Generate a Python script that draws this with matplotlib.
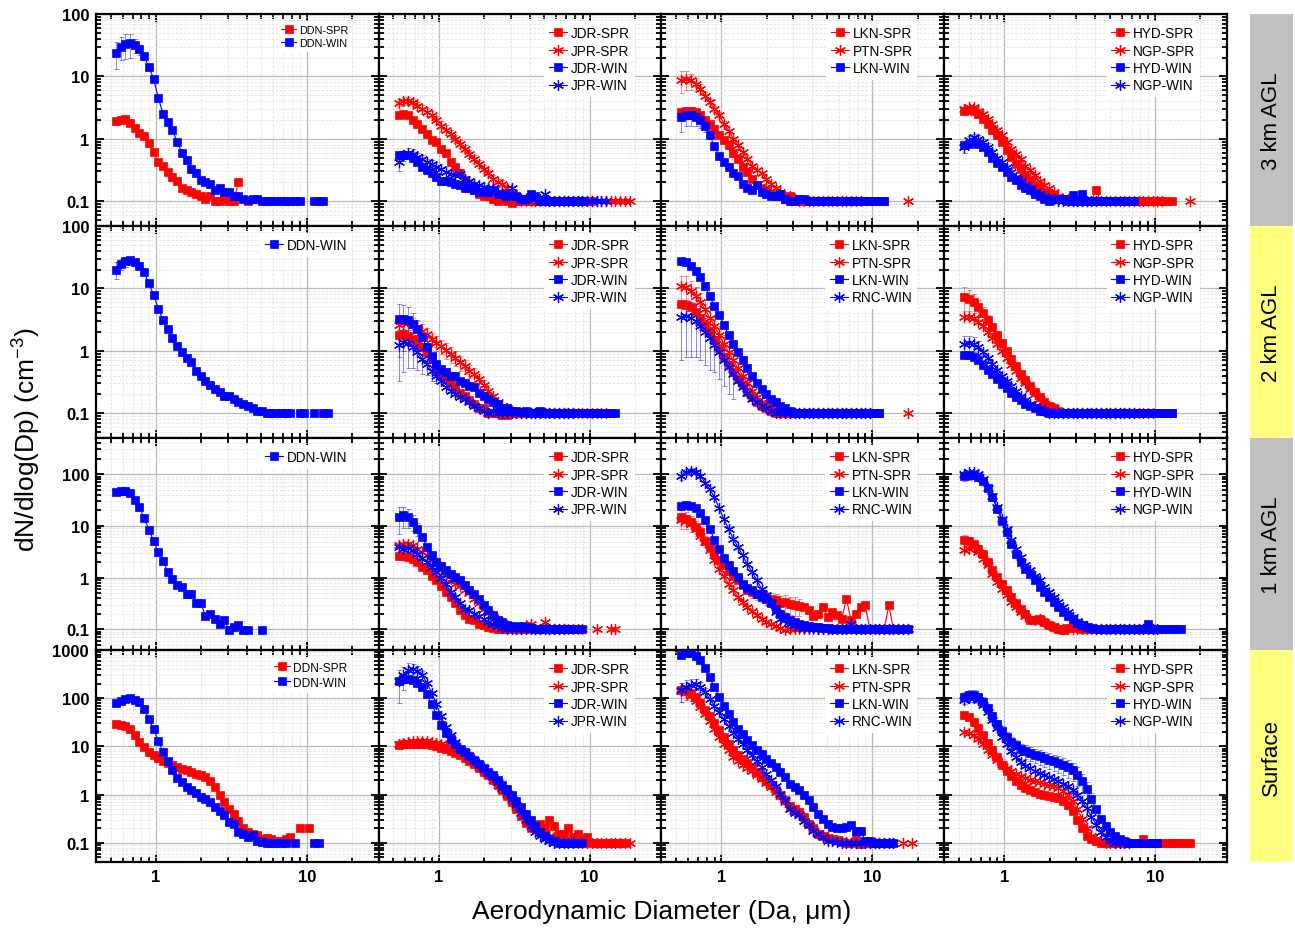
import numpy as np
import matplotlib
matplotlib.use('Agg')
import matplotlib.pyplot as plt
from matplotlib.patches import Rectangle
from matplotlib.ticker import FixedLocator, LogLocator, NullFormatter, FuncFormatter

plt.rcParams['font.family'] = ['Liberation Sans', 'DejaVu Sans']
plt.rcParams['mathtext.fontset'] = 'custom'
plt.rcParams['mathtext.rm'] = 'Liberation Sans'

na = np.nan

# APS bin midpoints (um)
D = [0.542, 0.583, 0.626, 0.673, 0.723, 0.777, 0.835, 0.898, 0.965, 1.037,
     1.114, 1.197, 1.286, 1.382, 1.486, 1.596, 1.715, 1.843, 1.981, 2.129,
     2.288, 2.458, 2.642, 2.839, 3.051, 3.278, 3.523, 3.786, 4.068, 4.371,
     4.698, 5.048, 5.425, 5.829, 6.264, 6.732, 7.234, 7.774, 8.354, 8.977,
     9.647, 10.37, 11.14, 11.97, 12.86, 13.82, 14.86, 15.96, 17.15, 18.43, 19.81]

# ---- 3 km AGL ----
r1_ddn_spr = [1.9, 2.0, 2.1, 1.8, 1.5, 1.25, 1.1, 0.86, 0.61, 0.42, 0.37, 0.29, 0.24, 0.21,
              0.16, 0.15, 0.14, 0.13, 0.12, 0.11, 0.12, 0.10, 0.10, 0.11, 0.10, 0.10, 0.20, na, 0.10]
r1_ddn_win = [24, 30, 33, 34, 32, 27, 21, 14, 9.1, 4.5, 2.5, 1.85, 1.4, 0.88, 0.6, 0.45,
              0.33, 0.28, 0.22, 0.2, 0.19, 0.15, 0.16, 0.14, 0.14, 0.12, 0.12, 0.11, 0.105, 0.11,
              0.11, 0.1, 0.1, 0.1, 0.1, 0.1, 0.1, 0.1, 0.1, 0.1, na, na, 0.1, 0.1, 0.1]
r1_jdr_spr = [2.4, 2.5, 2.4, 2.0, 1.7, 1.45, 1.2, 0.94, 0.88, 0.69, 0.6, 0.42, 0.35, 0.28,
              0.22, 0.18, 0.15, 0.13, 0.12, 0.12, 0.11, 0.10, 0.11, 0.10, 0.095, 0.1, 0.1, 0.1,
              0.1, 0.1, 0.1, 0.1, 0.1, 0.1, 0.1, 0.1, 0.1, 0.1, 0.1, 0.1, 0.1, 0.1]
r1_jpr_spr = [3.8, 4.1, 4.1, 3.9, 3.4, 3.0, 2.7, 2.4, 2.0, 1.6, 1.4, 1.2, 1.0, 0.83, 0.69,
              0.58, 0.48, 0.40, 0.33, 0.28, 0.23, 0.20, 0.19, 0.16, 0.14, 0.12, 0.1, 0.1, 0.1,
              0.1, 0.1, 0.1, 0.1, 0.1, 0.1, 0.1, 0.1, 0.1, 0.1, 0.1, 0.1, 0.1, 0.1, 0.1, 0.1,
              0.1, 0.1, 0.1, 0.1, 0.1]
r1_jdr_win = [0.54, 0.55, 0.54, 0.49, 0.42, 0.35, 0.31, 0.28, 0.24, 0.21, 0.21, 0.20, 0.19,
              0.18, 0.16, 0.16, 0.15, 0.14, 0.14, 0.14, 0.15, 0.13, 0.13, 0.12, 0.12, 0.12, 0.11,
              0.11, 0.13, 0.12, 0.1, 0.1, 0.1, 0.1, 0.1, 0.1, 0.1, 0.1, 0.1, 0.1]
r1_jpr_win = [0.42, 0.54, 0.60, 0.58, 0.51, 0.48, 0.42, 0.40, 0.35, 0.33, 0.29, 0.27, 0.26,
              0.27, 0.23, 0.21, 0.19, 0.18, 0.17, 0.16, 0.16, 0.14, 0.13, 0.12, 0.16, 0.12, 0.11,
              0.11, 0.12, 0.11, 0.11, 0.13, 0.1, 0.1, 0.1, 0.1, 0.1, 0.1, 0.1, 0.1, 0.1, 0.1, 0.1,
              0.1, 0.1]
r1_lkn_spr = [2.7, 2.8, 2.8, 2.7, 2.4, 2.0, 1.7, 1.45, 1.13, 0.94, 0.78, 0.60, 0.48, 0.35,
              0.29, 0.23, 0.18, 0.16, 0.15, 0.13, 0.12, 0.12, 0.11, 0.12, 0.11, 0.10, 0.1, 0.1,
              0.1, 0.1, 0.1, 0.1, 0.1, 0.1, 0.1, 0.1, 0.1, 0.1, 0.1, 0.1, 0.1, 0.1, 0.1, 0.1]
r1_ptn_spr = [8.9, 9.1, 8.6, 7.6, 6.3, 4.9, 3.9, 3.0, 2.4, 1.75, 1.35, 1.0, 0.78, 0.61, 0.48,
              0.37, 0.31, 0.28, 0.23, 0.19, 0.16, 0.14, 0.12, 0.12, 0.11, 0.10, 0.10, 0.1, 0.1,
              0.1, 0.1, 0.1, 0.1, 0.1, 0.1, 0.1, 0.1, 0.1, 0.1, na, na, na, na, na, na, na, na,
              na, 0.1]
r1_lkn_win = [2.2, 2.4, 2.4, 2.2, 2.0, 1.6, 1.13, 0.76, 0.53, 0.42, 0.35, 0.28, 0.25, 0.19,
              0.16, 0.15, 0.18, 0.14, 0.13, 0.12, 0.12, 0.13, 0.11, 0.10, 0.10, 0.11, 0.11, 0.1,
              0.1, 0.1, 0.1, 0.1, 0.1, 0.1, 0.1, 0.1, 0.1, 0.1, 0.1, 0.1, 0.1, 0.1, 0.1, 0.1]
r1_hyd_spr = [2.8, 2.9, 2.8, 2.5, 2.1, 1.75, 1.4, 1.13, 0.88, 0.65, 0.51, 0.40, 0.33, 0.26,
              0.22, 0.18, 0.16, 0.14, 0.13, 0.12, 0.11, 0.11, 0.11, 0.10, 0.10, 0.10, 0.10, 0.10,
              0.15, 0.1, 0.1, 0.1, 0.1, 0.1, 0.1, 0.1, 0.1, 0.1, 0.1, 0.1, 0.1, 0.1, 0.1, 0.1, 0.1]
r1_ngp_spr = [3.0, 3.2, 3.2, 2.8, 2.5, 2.1, 1.7, 1.36, 1.13, 0.88, 0.69, 0.58, 0.48, 0.37,
              0.31, 0.26, 0.21, 0.18, 0.16, 0.14, 0.12, 0.11, 0.11, 0.1, 0.1, 0.1, 0.1, 0.1, 0.1,
              0.1, 0.1, 0.1, 0.1, 0.1, 0.1, 0.1, 0.1, 0.1, 0.1, 0.1, 0.1, 0.1, 0.1, na, na, na,
              na, na, 0.1]
r1_hyd_win = [0.78, 0.83, 0.88, 0.83, 0.74, 0.61, 0.49, 0.41, 0.35, 0.29, 0.24, 0.22, 0.18,
              0.16, 0.15, 0.13, 0.12, 0.11, 0.10, 0.11, 0.11, 0.11, 0.10, 0.127, 0.10, 0.13, 0.1,
              0.1, 0.1, 0.1, 0.1, 0.1, 0.1, 0.1, 0.1, 0.1, 0.1]
r1_ngp_win = [0.74, 0.94, 1.06, 1.0, 0.88, 0.74, 0.61, 0.49, 0.42, 0.35, 0.29, 0.24, 0.21,
              0.18, 0.16, 0.14, 0.13, 0.12, 0.11, 0.11, 0.10, 0.10, 0.10, 0.10, 0.10, 0.10, 0.10,
              0.10, 0.10]

# ---- 2 km AGL ----
r2_ddn_win = [20, 25, 27, 28, 26, 23, 18, 12, 7.8, 4.7, 3.1, 2.2, 1.6, 1.2, 0.96, 0.78, 0.65,
              0.48, 0.40, 0.33, 0.28, 0.24, 0.22, 0.19, 0.19, 0.17, 0.15, 0.14, 0.13, 0.12, 0.11,
              0.11, 0.10, 0.1, 0.1, 0.1, 0.1, 0.1, na, 0.1, 0.1, na, 0.1, na, 0.1, 0.1]
r2_jdr_spr = [1.8, 1.85, 1.75, 1.55, 1.3, 1.13, 0.94, 0.73, 0.54, 0.44, 0.36, 0.31, 0.26, 0.21,
              0.19, 0.16, 0.14, 0.12, 0.12, 0.10, 0.10, 0.10, 0.095, 0.095, 0.1, 0.1, 0.1, 0.1,
              0.1, 0.1, 0.1, 0.1, 0.1, 0.1, 0.1, 0.1, 0.1, 0.1, 0.1, 0.1, 0.1, 0.1]
r2_jpr_spr = [2.6, 2.8, 2.8, 2.6, 2.4, 2.1, 1.85, 1.55, 1.35, 1.2, 1.04, 0.88, 0.78, 0.65, 0.57,
              0.48, 0.42, 0.35, 0.28, 0.23, 0.19, 0.15, 0.13, 0.12, 0.11, 0.10, 0.1, 0.1, 0.1,
              0.1, 0.1, 0.1, 0.1, 0.1, 0.1, 0.1, 0.1, 0.1, 0.1, 0.1, 0.1, 0.1, 0.1, 0.1, 0.1]
r2_jdr_win = [3.2, 3.2, 3.1, 2.7, 2.2, 1.65, 1.13, 0.83, 0.61, 0.51, 0.45, 0.40, 0.40, 0.33,
              0.31, 0.27, 0.26, 0.21, 0.19, 0.17, 0.15, 0.14, 0.12, 0.12, 0.11, 0.11, 0.105, 0.11,
              0.10, 0.10, 0.11, 0.1, 0.1, 0.1, 0.1, 0.1, 0.1, 0.1, 0.1, 0.1, 0.1, 0.1, 0.1, 0.1,
              0.1, 0.1, 0.1]
r2_jpr_win = [1.23, 1.36, 1.33, 1.13, 0.94, 0.73, 0.61, 0.48, 0.40, 0.33, 0.26, 0.23, 0.20,
              0.18, 0.17, 0.15, 0.13, 0.12, 0.11, 0.10, 0.11, 0.1, 0.1, 0.1, 0.1, 0.1, 0.1, 0.1,
              0.1, 0.1, 0.1, 0.1, 0.1, 0.1, 0.1, 0.1, 0.1, 0.1]
r2_lkn_spr = [5.7, 5.5, 5.0, 4.2, 3.4, 2.6, 2.0, 1.5, 1.1, 0.80, 0.60, 0.45, 0.35, 0.28, 0.22,
              0.18, 0.15, 0.13, 0.12, 0.11, 0.10, 0.1, 0.1, 0.1, 0.1, 0.1, 0.1, 0.1, 0.1, 0.1,
              0.1, 0.1, 0.1, 0.1, 0.1, 0.1, 0.1, 0.1, 0.1, 0.1, 0.1, 0.1, 0.1]
r2_ptn_spr = [11, 10.5, 9.0, 7.5, 6.0, 4.6, 3.4, 2.5, 1.8, 1.3, 0.95, 0.70, 0.52, 0.40, 0.30,
              0.23, 0.18, 0.15, 0.13, 0.12, 0.11, 0.10, 0.1, 0.1, 0.1, 0.1, 0.1, 0.1, 0.1, 0.1,
              0.1, 0.1, 0.1, 0.1, 0.1, 0.1, 0.1, 0.1, 0.1, 0.1, 0.1, na, na, na, na, na, na, na,
              0.1]
r2_lkn_win = [27, 26, 23, 19, 15, 11, 7.5, 5.2, 3.8, 2.6, 1.8, 1.3, 0.95, 0.70, 0.52, 0.40,
              0.30, 0.24, 0.20, 0.17, 0.15, 0.13, 0.12, 0.11, 0.10, 0.1, 0.1, 0.1, 0.1, 0.1, 0.1,
              0.1, 0.1, 0.1, 0.1, 0.1, 0.1, 0.1, 0.1, 0.1, 0.1, 0.1, 0.1]
r2_rnc_win = [3.5, 3.6, 3.4, 3.0, 2.5, 2.0, 1.6, 1.25, 0.95, 0.72, 0.55, 0.42, 0.33, 0.26, 0.21,
              0.17, 0.15, 0.13, 0.12, 0.11, 0.10, 0.1, 0.1, 0.1, 0.1, 0.1, 0.1, 0.1, 0.1, 0.1,
              0.1, 0.1, 0.1, 0.1, 0.1, 0.1, 0.1, 0.1, 0.1, 0.1, 0.1]
r2_hyd_spr = [7.4, 6.8, 6.0, 5.0, 4.0, 3.1, 2.4, 1.8, 1.35, 1.0, 0.75, 0.56, 0.43, 0.34, 0.27,
              0.22, 0.18, 0.15, 0.13, 0.12, 0.11, 0.10, 0.1, 0.1, 0.1, 0.1, 0.1, 0.1, 0.1, 0.1,
              0.1, 0.1, 0.1, 0.1, 0.1, 0.1, 0.1, 0.1, 0.1, 0.1, 0.1, 0.1, 0.1, 0.1, 0.1]
r2_ngp_spr = [3.5, 3.5, 3.3, 2.9, 2.5, 2.0, 1.6, 1.3, 1.0, 0.78, 0.60, 0.47, 0.37, 0.30, 0.24,
              0.20, 0.17, 0.14, 0.13, 0.12, 0.11, 0.10, 0.1, 0.1, 0.1, 0.1, 0.1, 0.1, 0.1, 0.1,
              0.1, 0.1, 0.1, 0.1, 0.1, 0.1, 0.1, 0.1, 0.1, 0.1, 0.1]
r2_hyd_win = [0.85, 0.85, 0.80, 0.70, 0.60, 0.50, 0.42, 0.35, 0.29, 0.25, 0.21, 0.18, 0.16,
              0.14, 0.13, 0.12, 0.11, 0.11, 0.10, 0.1, 0.1, 0.1, 0.1, 0.1, 0.1, 0.1, 0.1, 0.1,
              0.1, 0.1, 0.1, 0.1, 0.1, 0.1, 0.1, 0.1, 0.1, 0.1, 0.1, 0.1, 0.1, 0.1, 0.1, 0.1, 0.1]
r2_ngp_win = [1.3, 1.35, 1.3, 1.15, 0.95, 0.78, 0.62, 0.50, 0.40, 0.33, 0.27, 0.23, 0.19, 0.16,
              0.14, 0.13, 0.12, 0.11, 0.10, 0.1, 0.1, 0.1, 0.1, 0.1, 0.1, 0.1, 0.1, 0.1, 0.1, 0.1,
              0.1, 0.1, 0.1, 0.1, 0.1, 0.1, 0.1]

# ---- 1 km AGL ----
r3_ddn_win = [46, 48, 48, 43, 32, 23, 14, 8.5, 5.1, 3.1, 2.1, 1.3, 0.96, 0.73, 0.66, 0.48, 0.49,
              0.33, 0.33, 0.18, 0.20, 0.16, 0.125, 0.15, 0.097, 0.11, 0.12, 0.097, 0.097, na, na,
              0.097]
r3_jdr_spr = [2.6, 2.6, 2.5, 2.3, 2.0, 1.6, 1.4, 1.1, 0.89, 0.68, 0.53, 0.42, 0.32, 0.24, 0.19,
              0.16, 0.15, 0.13, 0.12, 0.11, 0.105, 0.10, 0.10, 0.10, 0.1, 0.1, 0.1, 0.1, 0.1, 0.1,
              0.1, 0.1, 0.1, 0.1, 0.1, 0.1, 0.1, 0.1, 0.1]
r3_jpr_spr = [4.2, 4.5, 4.5, 4.2, 3.6, 3.1, 2.7, 2.2, 1.8, 1.43, 1.19, 0.96, 0.77, 0.68, 0.59,
              0.51, 0.39, 0.32, 0.25, 0.21, 0.18, 0.15, 0.13, 0.12, 0.11, 0.10, 0.10, 0.12, 0.13,
              0.10, 0.10, 0.14, 0.1, 0.1, 0.1, 0.1, 0.1, 0.1, 0.1, 0.1, na, na, 0.1, na, na, 0.1,
              0.1]
r3_jdr_win = [15, 16, 15, 12, 8.8, 6.1, 3.9, 2.7, 2.0, 1.65, 1.38, 1.19, 1.03, 0.89, 0.71, 0.59,
              0.49, 0.39, 0.29, 0.24, 0.19, 0.15, 0.14, 0.12, 0.116, 0.113, 0.116, 0.11, 0.105,
              0.10, 0.1, 0.1, 0.1, 0.1, 0.1, 0.1, 0.1, 0.1, 0.1, 0.1]
r3_jpr_win = [3.9, 3.6, 3.8, 3.4, 2.9, 2.4, 2.0, 1.6, 1.3, 1.0, 0.77, 0.53, 0.42, 0.32, 0.25,
              0.235, 0.20, 0.18, 0.156, 0.14, 0.13, 0.116, 0.105, 0.10, 0.10, 0.1, 0.1, 0.1, 0.1,
              0.1, 0.1, 0.1, 0.1, 0.1, 0.1, 0.1]
r3_lkn_spr = [14.7, 13.6, 11.8, 9.4, 7.6, 5.2, 3.9, 2.9, 2.2, 1.73, 1.34, 1.06, 0.89, 0.71, 0.59,
              0.53, 0.49, 0.46, 0.42, 0.39, 0.37, 0.33, 0.34, 0.31, 0.30, 0.28, 0.27, 0.235, 0.18,
              0.20, 0.27, 0.176, 0.22, 0.19, 0.16, 0.39, 0.15, 0.20, 0.27, 0.29, 0.10, 0.10, 0.10,
              0.10, 0.29, 0.10]
r3_ptn_spr = [13, 12.3, 10.9, 8.8, 6.5, 4.9, 3.4, 2.2, 1.5, 1.06, 0.77, 0.57, 0.42, 0.34, 0.27,
              0.23, 0.19, 0.16, 0.14, 0.127, 0.116, 0.105, 0.097, 0.1, 0.1, 0.1, 0.1, 0.1, 0.1,
              0.1, 0.1, 0.1, 0.1, 0.1, 0.1, 0.1, 0.1, 0.1, 0.1, 0.1, 0.1, 0.1, 0.1, 0.1, 0.1, 0.1,
              0.1, 0.1, 0.1]
r3_lkn_win = [24.6, 25.7, 24.6, 22.2, 17.5, 13, 8.8, 5.4, 3.6, 2.4, 1.73, 1.34, 1.03, 0.77,
              0.64, 0.57, 0.49, 0.42, 0.38, 0.32, 0.25, 0.20, 0.17, 0.15, 0.14, 0.13, 0.12, 0.116,
              0.113, 0.11, 0.105, 0.105, 0.1, 0.1, 0.1, 0.1, 0.1, 0.1, 0.1, 0.1, 0.1, 0.1, 0.1,
              0.1, 0.1, 0.1, 0.1, 0.1, 0.1]
r3_rnc_win = [93, 112, 116, 108, 93, 69, 51, 36, 22, 13.6, 8.8, 5.6, 3.9, 2.7, 1.8, 1.29, 0.89,
              0.61, 0.46, 0.32, 0.22, 0.16, 0.15, 0.127, 0.12, 0.113, 0.108, 0.105, 0.105, 0.10,
              0.10, 0.10, 0.10, 0.10, 0.10, 0.10, 0.13, 0.1, 0.1, 0.1, 0.1, 0.1, 0.1, 0.1, 0.1,
              0.1, 0.1, 0.1, 0.1]
r3_hyd_spr = [5.4, 5.1, 4.5, 3.6, 2.9, 2.0, 1.38, 1.03, 0.77, 0.57, 0.42, 0.33, 0.25, 0.20,
              0.15, 0.15, 0.16, 0.14, 0.12, 0.113, 0.10, 0.097, 0.105, 0.11, 0.105, 0.10, 0.1,
              0.1, 0.1, 0.1, 0.1, 0.1, 0.1, 0.1, 0.1, 0.1, 0.1, 0.1, 0.1, 0.1, 0.1, 0.1, 0.1]
r3_ngp_spr = [3.4, 3.6, 3.9, 3.1, 2.3, 1.73, 1.19, 0.83, 0.61, 0.46, 0.34, 0.27, 0.22, 0.18,
              0.16, 0.15, 0.16, 0.14, 0.12, 0.113, 0.105, 0.10, 0.1, 0.1, 0.1, 0.1, 0.1, 0.1, 0.1,
              0.1, 0.1, 0.1, 0.1, 0.1, 0.1, 0.1, 0.1, 0.1, 0.1, 0.1, 0.1]
r3_hyd_win = [93, 97, 97, 89, 74, 55, 36, 21, 12.6, 7.5, 4.5, 2.9, 2.0, 1.49, 1.19, 0.89, 0.66,
              0.53, 0.42, 0.34, 0.27, 0.22, 0.18, 0.156, 0.134, 0.12, 0.113, 0.105, 0.10, 0.1,
              0.1, 0.1, 0.1, 0.1, 0.1, 0.1, 0.1, 0.1, 0.1, 0.127, 0.1, 0.1, 0.1, 0.1, 0.1, 0.1,
              0.1]
r3_ngp_win = [100, 108, 108, 100, 80, 55, 38, 23.5, 13.6, 8.8, 5.4, 3.6, 2.5, 1.73, 1.38, 1.1,
              0.89, 0.66, 0.53, 0.42, 0.34, 0.27, 0.22, 0.176, 0.147, 0.127, 0.116, 0.105, 0.10,
              0.1, 0.1, 0.1, 0.1, 0.1, 0.1, 0.1, 0.1, 0.1, 0.1, 0.1, 0.1, 0.1]

# ---- Surface ----
r4_ddn_spr = [29, 28, 26, 22.5, 17, 12.3, 9.7, 7.6, 6.5, 5.7, 5.1, 4.6, 4.2, 3.7, 3.45, 3.2,
              2.95, 2.7, 2.5, 2.3, 1.9, 1.44, 0.97, 0.70, 0.51, 0.39, 0.28, 0.20, 0.17, 0.15,
              0.144, 0.123, 0.127, 0.12, 0.11, 0.11, 0.12, 0.13, na, 0.2, na, 0.2]
r4_ddn_win = [79, 89, 97, 100, 94, 85, 60, 37, 22.5, 12.9, 7.6, 4.9, 3.3, 2.2, 1.83, 1.44, 1.23,
              1.1, 0.90, 0.80, 0.70, 0.56, 0.45, 0.37, 0.27, 0.25, 0.17, 0.156, 0.13, 0.144, 0.11,
              0.105, 0.10, 0.10, 0.10, 0.10, 0.10, na, 0.10, na, na, na, 0.10, 0.10]
r4_jdr_spr = [10.5, 11, 11.5, 11.5, 11.5, 11.5, 11, 10.5, 10, 9.5, 9, 8.2, 7.4, 6.6, 5.8, 5.0,
              4.3, 3.6, 3.0, 2.5, 2.0, 1.6, 1.25, 0.95, 0.70, 0.50, 0.36, 0.26, 0.20, 0.20, 0.25,
              0.20, 0.30, 0.22, 0.15, 0.15, 0.20, 0.13, 0.15, 0.12, 0.13, 0.1, 0.1, 0.1, 0.1,
              0.1, 0.1, 0.1, 0.1]
r4_jpr_spr = [11.5, 12, 12.5, 13, 13, 13, 13, 12.5, 12, 11.5, 10.5, 9.5, 8.5, 7.5, 6.5, 5.5,
              4.6, 3.8, 3.1, 2.5, 2.0, 1.6, 1.3, 1.0, 0.75, 0.55, 0.42, 0.32, 0.25, 0.20, 0.17,
              0.15, 0.14, 0.13, 0.12, 0.11, 0.1, 0.1, 0.1, 0.1, 0.1, 0.1, 0.1, 0.1, 0.1, 0.1,
              0.1, 0.1, 0.1, 0.1]
r4_jdr_win = [230, 250, 250, 240, 210, 170, 120, 75, 45, 28, 19, 14, 11, 9, 7.5, 6.3, 5.3, 4.4,
              3.6, 3.0, 2.5, 2.0, 1.6, 1.3, 1.0, 0.75, 0.55, 0.40, 0.30, 0.22, 0.17, 0.14, 0.12,
              0.11, 0.10, 0.1, 0.1, 0.1, 0.1, 0.1]
r4_jpr_win = [230, 300, 380, 400, 370, 300, 210, 130, 75, 42, 25, 17, 12.5, 9.5, 7.7, 6.3, 5.2,
              4.3, 3.5, 2.8, 2.3, 1.8, 1.4, 1.1, 0.80, 0.60, 0.42, 0.30, 0.22, 0.17, 0.14, 0.12,
              0.11, 0.10, 0.1, 0.1, 0.1, 0.1]
r4_lkn_spr = [145, 140, 127, 105, 79, 57, 42, 30, 22, 16, 11.4, 8.5, 6.5, 5.5, 4.5, 3.7, 2.9,
              2.3, 1.9, 1.56, 1.23, 0.97, 0.76, 0.57, 0.50, 0.44, 0.35, 0.25, 0.20, 0.156, 0.14,
              0.124, 0.12, 0.114, 0.105, 0.10, 0.097, 0.13, 0.094, 0.1, 0.1]
r4_ptn_spr = [140, 135, 113, 89, 65, 47, 33, 23, 16, 11.4, 8.3, 6.0, 5.1, 4.2, 3.6, 3.1, 2.6,
              2.1, 1.74, 1.44, 1.13, 0.92, 0.70, 0.51, 0.45, 0.39, 0.29, 0.23, 0.19, 0.16, 0.144,
              0.13, 0.117, 0.114, 0.11, 0.105, 0.1, 0.1, 0.1, 0.1, 0.1, 0.1, 0.1, 0.1, 0.1, 0.1,
              na, 0.1, na, 0.1]
r4_lkn_win = [800, 850, 850, 760, 620, 425, 270, 170, 105, 70, 47, 32, 23, 18.3, 13.3, 10.5,
              8.3, 7.1, 5.6, 4.5, 3.7, 2.9, 2.3, 1.7, 1.45, 1.23, 0.97, 0.76, 0.56, 0.40, 0.32,
              0.25, 0.21, 0.20, 0.20, 0.21, 0.23, 0.18, 0.18, 0.11, 0.11, 0.1, 0.1, 0.1, 0.1, 0.1]
r4_rnc_win = [145, 175, 190, 200, 175, 133, 97, 70, 51, 37, 26, 19, 14.5, 11.4, 8.5, 6.5, 4.9,
              3.7, 2.7, 1.98, 1.5, 1.05, 0.76, 0.51, 0.42, 0.37, 0.29, 0.23, 0.18, 0.15, 0.13,
              0.11, 0.11, 0.105, 0.1, 0.1, 0.1, 0.1, 0.1, 0.1, 0.1, 0.1, 0.1, 0.1, 0.1, 0.1]
r4_hyd_spr = [45, 40, 32, 24, 17, 12, 8.5, 6.0, 4.2, 3.1, 2.4, 1.9, 1.6, 1.4, 1.25, 1.15, 1.05,
              1.0, 0.95, 0.90, 0.85, 0.75, 0.60, 0.45, 0.30, 0.20, 0.14, 0.12, 0.11, 0.1, 0.1,
              0.1, 0.1, 0.1, 0.1, 0.1, 0.1, 0.1, 0.12, 0.1, 0.1, 0.1, 0.1, 0.1, 0.1, 0.1, 0.1,
              0.1, 0.1]
r4_ngp_spr = [20, 19, 17, 14, 11, 8.5, 6.7, 5.3, 4.3, 3.6, 3.1, 2.7, 2.4, 2.2, 2.0, 1.9, 1.8,
              1.7, 1.6, 1.5, 1.4, 1.2, 1.0, 0.75, 0.50, 0.32, 0.20, 0.14, 0.12, 0.11, 0.1, 0.1,
              0.1, 0.1, 0.1]
r4_hyd_win = [105, 115, 115, 105, 85, 62, 42, 29, 21, 16, 12.5, 10.5, 9, 8, 7.3, 6.8, 6.3, 5.8,
              5.3, 4.9, 4.5, 4.1, 3.7, 3.2, 2.6, 1.9, 1.3, 0.80, 0.50, 0.32, 0.22, 0.17, 0.14,
              0.12, 0.11, 0.1, 0.1, 0.1, 0.1, 0.1, 0.1, 0.1]
r4_ngp_win = [90, 100, 100, 90, 72, 52, 36, 24, 16, 11, 8, 6, 4.8, 4.0, 3.5, 3.1, 2.8, 2.5, 2.3,
              2.1, 1.9, 1.7, 1.5, 1.25, 1.0, 0.75, 0.52, 0.35, 0.24, 0.17, 0.13, 0.11, 0.1, 0.1,
              0.1, 0.1]

# error bars (first bins only)
e_r1_ddn_win = [11, 12, 14, 14, 8, 5, 3, 1.5, 1.0, 0.5, 0.3, 0.2]
e_r1_jpr_spr = [0.5, 0.6, 0.6, 0.6, 0.5, 0.5, 0.4, 0.4, 0.3, 0.3, 0.25, 0.2, 0.15, 0.12, 0.1,
                0.08, 0.07, 0.06, 0.05, 0.04, 0.03, 0.03, 0.03, 0.03]
e_r1_jpr_win = [0.12, 0.1, 0.1, 0.1, 0.08, 0.07, 0.06, 0.05]
e_r1_ptn_spr = [3.5, 3.0, 2.5, 1.8, 1.2, 0.8, 0.5, 0.35, 0.25, 0.15]
e_r1_lkn_win = [0.9, 0.8, 0.8, 0.6, 0.5, 0.3, 0.15, 0.1]
e_r1_ngp_win = [0.15, 0.15, 0.15, 0.15, 0.12, 0.1]
e_r2_ddn_win = [6, 5, 5, 4, 3, 2]
e_r2_jdr_win = [2.4, 2.2, 1.9, 1.4, 0.9, 0.5, 0.3]
e_r2_jpr_spr = [0.8, 0.8, 0.8, 0.7, 0.6, 0.6, 0.5, 0.4, 0.35, 0.3, 0.3, 0.25, 0.2, 0.18, 0.15,
                0.12, 0.1, 0.08, 0.06, 0.05]
e_r2_jpr_win = [0.9, 0.9, 0.8, 0.6, 0.45, 0.3, 0.2, 0.15, 0.1]
e_r2_ptn_spr = [5, 5, 4, 3, 2.5, 2, 1.5, 1, 0.7, 0.5, 0.35, 0.25]
e_r2_rnc_win = [2.8, 2.8, 2.6, 2.2, 1.8, 1.4, 1.1, 0.8, 0.6, 0.45, 0.35, 0.25]
e_r2_hyd_spr = [3, 2.5, 2, 1.5, 1, 0.7]
e_r2_ngp_win = [0.4, 0.4, 0.35, 0.3]
e_r3_jdr_win = [8, 7, 6, 4, 2.5]
e_r3_lkn_spr = [6, 5, 4, 3, 2, 1.2, 0.8, 0.5, 0.3, 0.2, 0.15, 0.12, 0.1, 0.1, 0.1, 0.12, 0.12,
                0.12, 0.12, 0.12, 0.12, 0.12, 0.12, 0.12, 0.12, 0.1]
e_r3_rnc_win = [15, 15, 15, 12, 10]
e_r3_hyd_win = [20, 20, 18, 15, 10]
e_r3_hyd_spr = [1.3, 1.0, 0.7]
e_r4_ddn_win = [10, 10, 10, 10]
e_r4_jpr_win = [150, 150, 150, 120, 90, 60]
e_r4_rnc_win = [60, 60, 60, 50, 40, 30]
e_r4_lkn_spr = [60, 50, 40]
e_r4_hyd_win = [30, 30, 30, 25, 20, 15, 10, 7, 5, 4, 3, 3, 2.5, 2.5, 2.3, 2.2, 2.1, 2, 1.9,
                1.8, 1.7, 1.6, 1.5, 1.3, 1.1, 0.8, 0.5, 0.3]

panels = [
    [[('DDN-SPR', r1_ddn_spr), ('DDN-WIN', r1_ddn_win)],
     [('JDR-SPR', r1_jdr_spr), ('JPR-SPR', r1_jpr_spr), ('JDR-WIN', r1_jdr_win), ('JPR-WIN', r1_jpr_win)],
     [('LKN-SPR', r1_lkn_spr), ('PTN-SPR', r1_ptn_spr), ('LKN-WIN', r1_lkn_win)],
     [('HYD-SPR', r1_hyd_spr), ('NGP-SPR', r1_ngp_spr), ('HYD-WIN', r1_hyd_win), ('NGP-WIN', r1_ngp_win)]],
    [[('DDN-WIN', r2_ddn_win)],
     [('JDR-SPR', r2_jdr_spr), ('JPR-SPR', r2_jpr_spr), ('JDR-WIN', r2_jdr_win), ('JPR-WIN', r2_jpr_win)],
     [('LKN-SPR', r2_lkn_spr), ('PTN-SPR', r2_ptn_spr), ('LKN-WIN', r2_lkn_win), ('RNC-WIN', r2_rnc_win)],
     [('HYD-SPR', r2_hyd_spr), ('NGP-SPR', r2_ngp_spr), ('HYD-WIN', r2_hyd_win), ('NGP-WIN', r2_ngp_win)]],
    [[('DDN-WIN', r3_ddn_win)],
     [('JDR-SPR', r3_jdr_spr), ('JPR-SPR', r3_jpr_spr), ('JDR-WIN', r3_jdr_win), ('JPR-WIN', r3_jpr_win)],
     [('LKN-SPR', r3_lkn_spr), ('PTN-SPR', r3_ptn_spr), ('LKN-WIN', r3_lkn_win), ('RNC-WIN', r3_rnc_win)],
     [('HYD-SPR', r3_hyd_spr), ('NGP-SPR', r3_ngp_spr), ('HYD-WIN', r3_hyd_win), ('NGP-WIN', r3_ngp_win)]],
    [[('DDN-SPR', r4_ddn_spr), ('DDN-WIN', r4_ddn_win)],
     [('JDR-SPR', r4_jdr_spr), ('JPR-SPR', r4_jpr_spr), ('JDR-WIN', r4_jdr_win), ('JPR-WIN', r4_jpr_win)],
     [('LKN-SPR', r4_lkn_spr), ('PTN-SPR', r4_ptn_spr), ('LKN-WIN', r4_lkn_win), ('RNC-WIN', r4_rnc_win)],
     [('HYD-SPR', r4_hyd_spr), ('NGP-SPR', r4_ngp_spr), ('HYD-WIN', r4_hyd_win), ('NGP-WIN', r4_ngp_win)]],
]
errs = {(0, 'DDN-WIN'): e_r1_ddn_win, (0, 'JPR-SPR'): e_r1_jpr_spr, (0, 'JPR-WIN'): e_r1_jpr_win,
        (0, 'PTN-SPR'): e_r1_ptn_spr, (0, 'LKN-WIN'): e_r1_lkn_win, (0, 'NGP-WIN'): e_r1_ngp_win,
        (1, 'DDN-WIN'): e_r2_ddn_win, (1, 'JDR-WIN'): e_r2_jdr_win, (1, 'JPR-SPR'): e_r2_jpr_spr,
        (1, 'JPR-WIN'): e_r2_jpr_win, (1, 'PTN-SPR'): e_r2_ptn_spr, (1, 'RNC-WIN'): e_r2_rnc_win,
        (1, 'HYD-SPR'): e_r2_hyd_spr, (1, 'NGP-WIN'): e_r2_ngp_win,
        (2, 'JDR-WIN'): e_r3_jdr_win, (2, 'LKN-SPR'): e_r3_lkn_spr, (2, 'RNC-WIN'): e_r3_rnc_win,
        (2, 'HYD-WIN'): e_r3_hyd_win, (2, 'HYD-SPR'): e_r3_hyd_spr,
        (3, 'DDN-WIN'): e_r4_ddn_win, (3, 'JPR-WIN'): e_r4_jpr_win, (3, 'RNC-WIN'): e_r4_rnc_win,
        (3, 'LKN-SPR'): e_r4_lkn_spr, (3, 'HYD-WIN'): e_r4_hyd_win}

row_ylim = [(0.04, 100), (0.04, 100), (0.04, 500), (0.04, 1000)]
row_names = ['3 km AGL', '2 km AGL', '1 km AGL', 'Surface']
row_colors = ['#c0c0c0', '#ffff80', '#c0c0c0', '#ffff80']
square_sites = ('DDN', 'JDR', 'LKN', 'HYD')
leg_size = {(0, 0): 7.8, (3, 0): 8.6}

fig, axes = plt.subplots(4, 4, figsize=(12.95, 9.29), dpi=100, sharex=True, sharey='row')
fig.subplots_adjust(left=0.0741, right=0.9475, top=0.9839, bottom=0.071, wspace=0, hspace=0)

fmt = FuncFormatter(lambda v, p: f'{v:g}')
for r in range(4):
    for c in range(4):
        ax = axes[r, c]
        ax.set_xscale('log')
        ax.set_yscale('log')
        for label, vals in panels[r][c]:
            col = '#ff0000' if 'SPR' in label else '#0000ff'
            if label[:3] in square_sites:
                mk, ms, mew = 's', 5.2, 0.5
            else:
                mk, ms, mew = (6, 2, 0), 8, 0.9
            x = D[:len(vals)]
            e = errs.get((r, label))
            if e is not None:
                ax.errorbar(x[:len(e)], vals[:len(e)], yerr=e, fmt='none', ecolor=col,
                            elinewidth=0.6, capsize=1.8, capthick=0.6, alpha=0.55, zorder=2)
            ax.plot(x, vals, color=col, lw=0.8, marker=mk, ms=ms, mew=mew,
                    mec=col, mfc=col, label=label, zorder=3)
        ax.set_xlim(0.4, 30)
        ax.set_ylim(*row_ylim[r])
        ax.xaxis.set_major_locator(FixedLocator([1, 10]))
        ax.xaxis.set_minor_locator(LogLocator(base=10, subs=np.arange(2, 10) * 1.0, numticks=20))
        ax.xaxis.set_major_formatter(fmt)
        ax.xaxis.set_minor_formatter(NullFormatter())
        ax.yaxis.set_major_locator(FixedLocator([0.1, 1, 10, 100, 1000]))
        ax.yaxis.set_minor_locator(LogLocator(base=10, subs=np.arange(2, 10) * 1.0, numticks=20))
        ax.yaxis.set_major_formatter(fmt)
        ax.yaxis.set_minor_formatter(NullFormatter())
        ax.grid(which='major', color='#b8b8b8', lw=0.9)
        ax.grid(which='minor', color='#e2e2e2', lw=0.6, ls=(0, (3, 2)))
        ax.set_axisbelow(True)
        ax.tick_params(which='both', direction='in', top=True, right=True, width=1.3)
        ax.tick_params(which='major', length=6, labelsize=12, pad=5)
        ax.tick_params(which='minor', length=3.5)
        for lab in ax.get_xticklabels() + ax.get_yticklabels():
            lab.set_fontweight('bold')
        for sp in ax.spines.values():
            sp.set_linewidth(1.6)
        leg = ax.legend(loc='upper right', bbox_to_anchor=(0.905, 0.965),
                        fontsize=leg_size.get((r, c), 9.8), frameon=True, fancybox=False,
                        edgecolor='none', framealpha=1, handlelength=1.3, handletextpad=0.3,
                        labelspacing=0.25, borderpad=0.35, borderaxespad=0)

# right-hand height strips
for r in range(4):
    pos = axes[r, 0].get_position()
    fig.patches.append(Rectangle((0.9653, pos.y0), 0.0332, pos.height, transform=fig.transFigure,
                                 facecolor=row_colors[r], edgecolor='none'))
    fig.text(0.9653 + 0.0166, pos.y0 + pos.height / 2, row_names[r], rotation=90,
             ha='center', va='center', fontsize=16)

fig.text(0.02, 0.527, r'dN/dlog(Dp) (cm$^{\mathregular{-3}}$)', rotation=90,
         ha='center', va='center', fontsize=19)
fig.text(0.511, 0.018, 'Aerodynamic Diameter (Da, \u03bcm)', ha='center', va='center',
         fontsize=19)

fig.savefig('out.png', dpi=100)
